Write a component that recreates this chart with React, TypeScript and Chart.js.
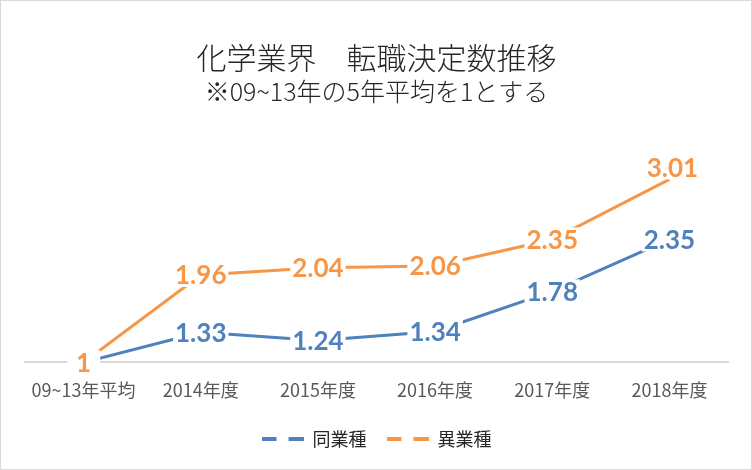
import React, { useEffect, useRef } from "react";
import { Chart, registerables } from "chart.js";

Chart.register(...registerables);

const categories = ["09~13年平均", "2014年度", "2015年度", "2016年度", "2017年度", "2018年度"];
const sameIndustry = [1, 1.33, 1.24, 1.34, 1.78, 2.35];
const otherIndustry = [1, 1.96, 2.04, 2.06, 2.35, 3.01];
const seriesNames = ["同業種", "異業種"];
const titleText = "化学業界　転職決定数推移";
const subtitleText = "※09~13年の5年平均を1とする";

const BLUE = "#4F81BD";
const ORANGE = "#F79646";
const JP = "'Noto Sans CJK JP', 'Noto Sans', sans-serif";

function makeIcon(color: string): HTMLCanvasElement {
  const c = document.createElement("canvas");
  c.width = 42;
  c.height = 4;
  const ctx = c.getContext("2d")!;
  ctx.fillStyle = color;
  ctx.fillRect(0, 0, 15, 4);
  ctx.fillRect(27, 0, 15, 4);
  return c;
}

// label nudges (dataset index - point index) as in the source chart
const labelNudge: Record<string, [number, number]> = { "1-5": [3, -12] };

const dataLabelPlugin = {
  id: "dataLabelsInline",
  afterDatasetsDraw(chart: any) {
    const ctx = chart.ctx;
    ctx.save();
    ctx.font = "bold 26px Lato, 'Open Sans', sans-serif";
    ctx.textAlign = "center";
    ctx.textBaseline = "middle";
    chart.data.datasets.forEach((ds: any, di: number) => {
      const meta = chart.getDatasetMeta(di);
      meta.data.forEach((pt: any, i: number) => {
        const txt = String(ds.data[i]);
        const w = ctx.measureText(txt).width;
        const h = 24;
        const n = labelNudge[`${di}-${i}`] || [0, 0];
        const x = pt.x + n[0];
        const y = pt.y + n[1];
        const padX = txt.length === 1 ? 9 : 2;
        ctx.fillStyle = "#ffffff";
        ctx.fillRect(x - w / 2 - padX, y - h / 2, w + padX * 2, h);
        ctx.fillStyle = ds.borderColor;
        ctx.fillText(txt, x, y + 1);
      });
    });
    ctx.restore();
  },
};

export default function App() {
  const ref = useRef<HTMLCanvasElement | null>(null);
  useEffect(() => {
    document.body.style.margin = "0";
    const icons = [makeIcon(BLUE), makeIcon(ORANGE)];
    const chart = new Chart(ref.current!, {
      type: "line",
      data: {
        labels: categories,
        datasets: [
          {
            label: seriesNames[0],
            data: sameIndustry,
            borderColor: BLUE,
            backgroundColor: BLUE,
            borderWidth: 3,
            pointRadius: 0,
            tension: 0,
          },
          {
            label: seriesNames[1],
            data: otherIndustry,
            borderColor: ORANGE,
            backgroundColor: ORANGE,
            borderWidth: 3,
            pointRadius: 0,
            tension: 0,
          },
        ],
      },
      options: {
        animation: false,
        responsive: true,
        maintainAspectRatio: false,
        layout: { padding: { left: 24, right: 23, top: 0, bottom: 11 } },
        scales: {
          x: {
            offset: true,
            grid: { display: false },
            border: { display: true, color: "#D9D9D9", width: 2 },
            ticks: {
              color: "#595959",
              font: { family: JP, size: 18 },
              padding: 9,
              maxRotation: 0,
              autoSkip: false,
            },
          },
          y: {
            display: false,
            min: 1,
            max: 3.3,
          },
        },
        plugins: {
          title: {
            display: true,
            text: titleText,
            color: "#262626",
            font: { family: JP, size: 30, weight: "300" },
            padding: { top: 39, bottom: 0 },
          },
          subtitle: {
            display: true,
            text: subtitleText,
            color: "#262626",
            font: { family: JP, size: 25, weight: "300" },
            padding: { top: 0, bottom: 47 },
          },
          legend: {
            position: "bottom",
            labels: {
              usePointStyle: true,
              pointStyleWidth: 42,
              color: "#262626",
              font: { family: JP, size: 18 },
              padding: 20,
              generateLabels: (c: any) =>
                (Chart.defaults.plugins.legend.labels as any)
                  .generateLabels(c)
                  .map((l: any, i: number) => ({ ...l, pointStyle: icons[i] })),
            },
          },
          tooltip: { enabled: false },
        },
      },
      plugins: [dataLabelPlugin],
    } as any);
    return () => chart.destroy();
  }, []);
  return (
    <div
      style={{
        position: "absolute",
        left: 0,
        top: 0,
        width: 752,
        height: 470,
        boxSizing: "border-box",
        border: "1px solid #D9D9D9",
        background: "#fff",
      }}
    >
      <div style={{ position: "relative", width: 750, height: 468 }}>
        <canvas ref={ref} />
      </div>
    </div>
  );
}
